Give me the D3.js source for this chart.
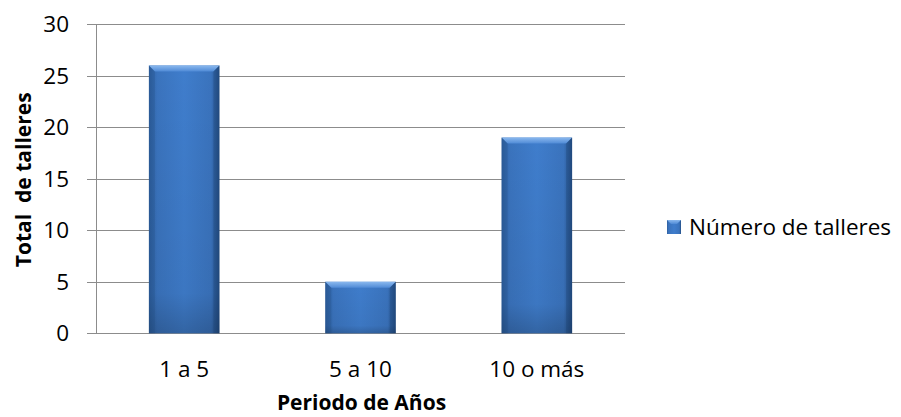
<!DOCTYPE html>
<html><head><meta charset="utf-8">
<script src="https://cdn.jsdelivr.net/npm/d3@7"></script>
<style>body{margin:0;background:#fff}svg{display:block}text{font-family:"Open Sans",sans-serif}</style>
</head><body>
<svg id="c" width="901" height="417"></svg>
<script>
const categories = ["1 a 5", "5 a 10", "10 o más"];
const values = [26, 5, 19];
const yTicks = [0, 5, 10, 15, 20, 25, 30];
const seriesName = "Número de talleres";
const xTitle = "Periodo de Años";
const yTitle = "Total  de talleres";

const svg = d3.select("#c");
const L = 96, R = 625, T = 24.3, B = 333.3;
const x = d3.scaleBand().domain(categories).range([L, R]).paddingInner(0.6).paddingOuter(0.3);
const y = d3.scaleLinear().domain([0, 30]).range([B, T]);

const defs = svg.append("defs");
const g = defs.append("linearGradient").attr("id", "bg").attr("x1", 0).attr("x2", 1).attr("y1", 0).attr("y2", 0);
g.append("stop").attr("offset", 0).attr("stop-color", "#2e5f9f");
g.append("stop").attr("offset", 0.12).attr("stop-color", "#3a73bd");
g.append("stop").attr("offset", 0.5).attr("stop-color", "#3f7dcc");
g.append("stop").attr("offset", 0.88).attr("stop-color", "#3a73bd");
g.append("stop").attr("offset", 1).attr("stop-color", "#244e85");
const gv = defs.append("linearGradient").attr("id", "bv").attr("x1", 0).attr("x2", 0).attr("y1", 0).attr("y2", 1);
gv.append("stop").attr("offset", 0).attr("stop-color", "#000").attr("stop-opacity", 0);
gv.append("stop").attr("offset", 0.85).attr("stop-color", "#000").attr("stop-opacity", 0.05);
gv.append("stop").attr("offset", 1).attr("stop-color", "#000").attr("stop-opacity", 0.2);
const gt = defs.append("linearGradient").attr("id", "bt").attr("x1", 0).attr("x2", 0).attr("y1", 0).attr("y2", 1);
gt.append("stop").attr("offset", 0).attr("stop-color", "#8ab8ee");
gt.append("stop").attr("offset", 1).attr("stop-color", "#4f8ad6");

// gridlines
svg.append("g").selectAll("line").data(yTicks).join("line")
  .attr("x1", L - 9).attr("x2", R).attr("y1", d => Math.round(y(d)) + 0.5).attr("y2", d => Math.round(y(d)) + 0.5)
  .attr("stroke", "#8c8c8c").attr("stroke-width", 1);
// y axis line
svg.append("line").attr("x1", L + 0.5).attr("x2", L + 0.5).attr("y1", y(30)).attr("y2", y(0))
  .attr("stroke", "#8c8c8c");

// y labels
const yAxis = d3.axisLeft(y).tickValues(yTicks).tickSize(0).tickPadding(0);
const ya = svg.append("g").attr("transform", `translate(${L - 27},0)`).call(yAxis);
ya.select(".domain").remove();
ya.selectAll("text").attr("font-size", 22.5).attr("fill", "#000").attr("font-family", "Open Sans, sans-serif");

// x labels
const xAxis = d3.axisBottom(x).tickSize(0).tickPadding(0);
const xa = svg.append("g").attr("transform", `translate(0,${B + 22})`).call(xAxis);
xa.select(".domain").remove();
xa.selectAll("text").attr("font-size", 22.5).attr("fill", "#000").attr("font-family", "Open Sans, sans-serif")
  .attr("dy", null).attr("y", 0).attr("transform", "translate(0,22)");

// bars
const bars = svg.append("g").selectAll("g").data(values).join("g");
bars.append("rect").attr("x", (d, i) => x(categories[i])).attr("y", d => y(d))
  .attr("width", x.bandwidth()).attr("height", d => y(0) - y(d)).attr("fill", "url(#bg)");
bars.append("rect").attr("x", (d, i) => x(categories[i])).attr("y", d => y(d))
  .attr("width", x.bandwidth()).attr("height", d => y(0) - y(d)).attr("fill", "url(#bv)");
const bev = 6;
bars.append("path").attr("d", (d, i) => {
  const x0 = x(categories[i]), x1 = x0 + x.bandwidth(), y0 = y(d);
  return `M${x0},${y0}L${x1},${y0}L${x1 - bev},${y0 + bev}L${x0 + bev},${y0 + bev}Z`;
}).attr("fill", "url(#bt)");
bars.append("path").attr("d", (d, i) => {
  const x0 = x(categories[i]), y0 = y(d);
  return `M${x0},${y0}L${x0 + bev},${y0 + bev}L${x0 + bev},${y(0)}L${x0},${y(0)}Z`;
}).attr("fill", "#1f4a80").attr("opacity", 0.25);
bars.append("path").attr("d", (d, i) => {
  const x1 = x(categories[i]) + x.bandwidth(), y0 = y(d);
  return `M${x1},${y0}L${x1 - bev},${y0 + bev}L${x1 - bev},${y(0)}L${x1},${y(0)}Z`;
}).attr("fill", "#1a3e6c").attr("opacity", 0.3);

// axis titles
svg.append("text").attr("x", (L + R) / 2 + 1).attr("y", 410).attr("text-anchor", "middle")
  .attr("font-size", 21).attr("font-weight", "bold").text(xTitle);
svg.append("text").attr("transform", `translate(31,${(T + B) / 2 + 1}) rotate(-90)`).attr("text-anchor", "middle")
  .attr("font-size", 21).attr("font-weight", "bold").style("white-space", "pre").text(yTitle);

// legend
const lg = svg.append("g").attr("transform", "translate(667,220)");
lg.append("rect").attr("x", 0).attr("y", 0).attr("width", 14).attr("height", 14).attr("fill", "url(#bg)");
lg.append("path").attr("d", "M0,0L14,0L10,4L4,4Z").attr("fill", "url(#bt)");
lg.append("text").attr("x", 22).attr("y", 15).attr("font-size", 22.5).attr("fill", "#000").text(seriesName);
</script>
</body></html>
